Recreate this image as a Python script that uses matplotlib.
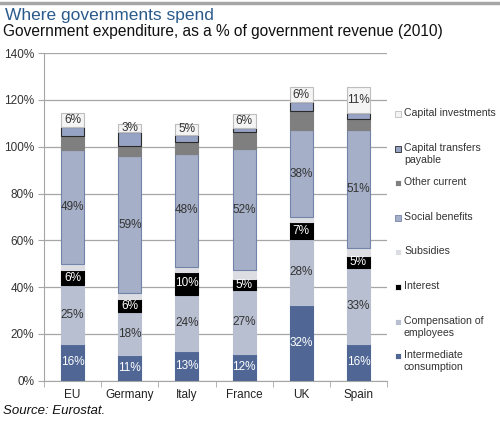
import numpy as np
import matplotlib.pyplot as plt
from matplotlib.lines import Line2D

plt.rcParams['font.family'] = ['Liberation Sans', 'DejaVu Sans']

# Données (% des recettes publiques, 2010)
countries = ['EU', 'Germany', 'Italy', 'France', 'UK', 'Spain']
intermediate = [15.6, 10.9, 12.7, 11.6, 32.3, 15.6]
compensation = [25.2, 18.4, 24.1, 27.1, 28.1, 32.6]
interest = [6.4, 5.4, 9.5, 4.7, 7.5, 5.0]
subsidies = [2.7, 2.6, 2.4, 3.8, 1.9, 3.7]
social = [48.8, 58.7, 48.4, 51.8, 37.3, 50.3]
other_current = [5.9, 4.5, 5.0, 7.4, 8.3, 4.6]
capital_transfers = [3.9, 5.8, 3.0, 1.4, 3.7, 2.8]
capital_inv = [6.0, 3.6, 4.7, 6.4, 6.3, 10.9]

lab_intermediate = ['16%', '11%', '13%', '12%', '32%', '16%']
lab_compensation = ['25%', '18%', '24%', '27%', '28%', '33%']
lab_interest = ['6%', '6%', '10%', '5%', '7%', '5%']
lab_social = ['49%', '59%', '48%', '52%', '38%', '51%']
lab_capital_inv = ['6%', '3%', '5%', '6%', '6%', '11%']

series = [
    ('Intermediate\nconsumption', intermediate, '#506796', '#506796', lab_intermediate, 'white'),
    ('Compensation of\nemployees', compensation, '#B8BFD1', '#B8BFD1', lab_compensation, '#333333'),
    ('Interest', interest, '#000000', '#000000', lab_interest, 'white'),
    ('Subsidies', subsidies, '#DCDDE3', '#DCDDE3', None, None),
    ('Social benefits', social, '#A5AFC7', '#7483AA', lab_social, '#333333'),
    ('Other current', other_current, '#7F7F7F', '#7F7F7F', None, None),
    ('Capital transfers\npayable', capital_transfers, '#97A3C4', '#2B2B2B', None, None),
    ('Capital investments', capital_inv, '#F4F4F4', '#BDBDBD', lab_capital_inv, '#333333'),
]

fig = plt.figure(figsize=(5.0, 4.22), dpi=100)
ax = fig.add_axes([0.088, 0.098, 0.686, 0.776])

x = np.arange(len(countries))
bottom = np.zeros(len(countries))
for name, vals, fc, ec, labels, tc in series:
    vals = np.array(vals)
    ax.bar(x, vals, 0.4, bottom=bottom, color=fc, edgecolor=ec, linewidth=0.8, zorder=3)
    if labels is not None:
        for i in range(len(x)):
            ax.text(x[i], bottom[i] + vals[i] / 2, labels[i], ha='center', va='center',
                    fontsize=8.5, color=tc, zorder=4)
    bottom = bottom + vals

ax.set_ylim(0, 140)
ax.set_xlim(-0.5, len(countries) - 0.5)
ax.set_yticks(np.arange(0, 141, 20))
ax.set_yticklabels([f'{v}%' for v in range(0, 141, 20)], fontsize=8.5, color='#333333')
ax.yaxis.grid(True, color='#A6A6A6', linewidth=0.9, zorder=0)
ax.set_xticks(x)
ax.set_xticklabels(countries, fontsize=8.5, color='#222222')
ax.set_xticks(np.arange(-0.5, len(countries), 1), minor=True)
ax.tick_params(axis='x', which='major', length=0, pad=6)
ax.tick_params(axis='x', which='minor', length=4, color='#A6A6A6')
ax.tick_params(axis='y', length=4, color='#A6A6A6', pad=3)
for s in ['top', 'right']:
    ax.spines[s].set_visible(False)
for s in ['left', 'bottom']:
    ax.spines[s].set_color('#A6A6A6')

# Légende dessinée à la main (marqueur aligné sur la première ligne)
W, H = 500.0, 422.0
y0, dy = 114.0, 34.6
for k, (name, vals, fc, ec, labels, tc) in enumerate(reversed(series)):
    yp = 1 - (y0 + k * dy) / H
    fig.add_artist(Line2D([398 / W], [yp], marker='s', markersize=5,
                          markerfacecolor=fc,
                          markeredgecolor=ec if ec != fc else '#FFFFFF',
                          markeredgewidth=0.6))
    fig.text(404 / W, yp + 6 / H, name, fontsize=7.6, color='#333333',
             va='top', ha='left', linespacing=1.25)

# Titres
fig.add_artist(Line2D([0, 1], [0.993, 0.993], color='#A6A6A6', linewidth=2.5))
fig.text(0.01, 0.963, 'Where governments spend', fontsize=12.5, color='#2A5A8C', va='center')
fig.text(0.006, 0.925, 'Government expenditure, as a % of government revenue (2010)',
         fontsize=11.2, color='#111111', va='center')
fig.text(0.006, 0.027, 'Source: Eurostat.', fontsize=9.5, style='italic', color='#111111',
         va='center')

fig.savefig('out.png', dpi=100)
